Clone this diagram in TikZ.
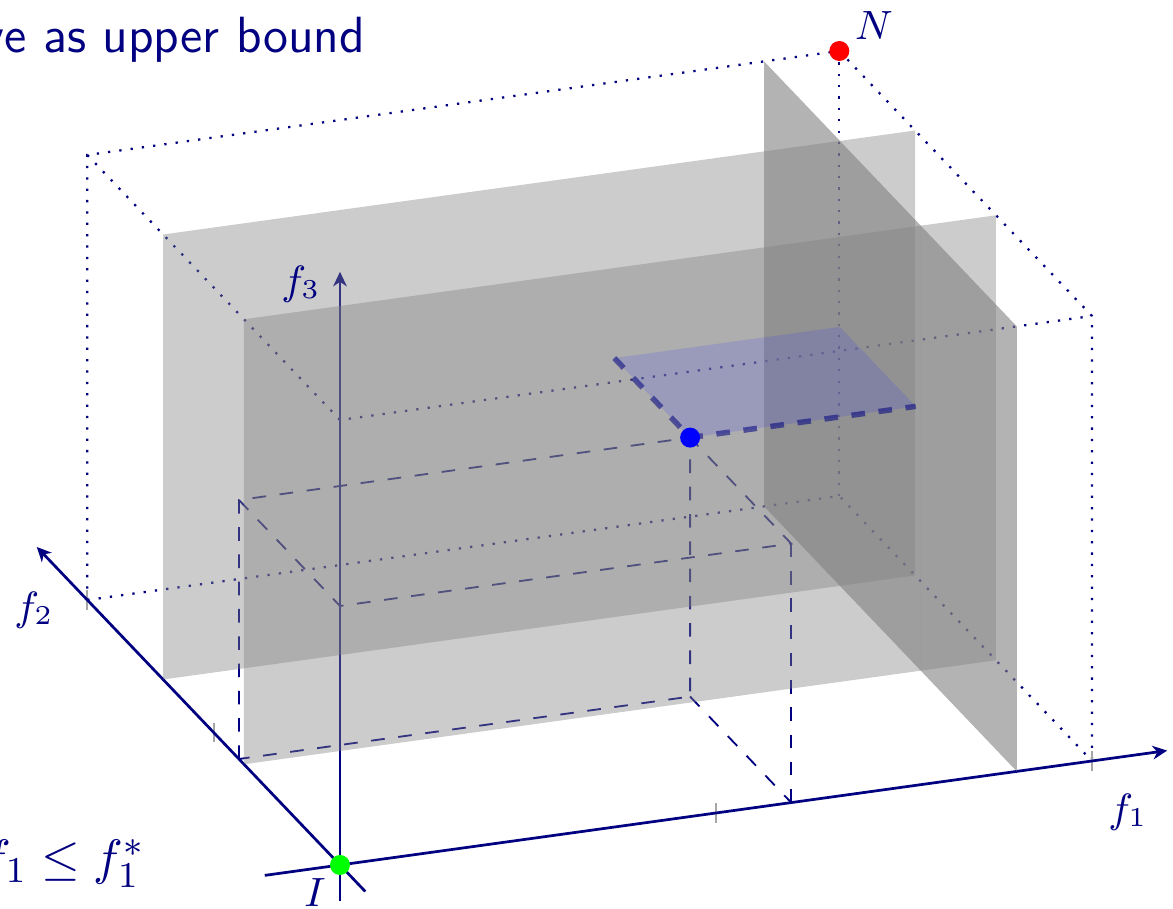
\documentclass[tikz,border=0pt]{standalone}
\usetikzlibrary{arrows.meta}
\definecolor{navyc}{RGB}{0,0,128}
\definecolor{goalblue}{RGB}{43,43,255}
\begin{document}
\begin{tikzpicture}[x=0.22pt,y=-0.22pt,
  axis/.style={navyc, line width=0.6pt, -{Stealth[length=3.2pt,width=3pt,inset=1pt]}},
  boxline/.style={navyc, dotted, line width=0.5pt},
  dashline/.style={navyc, dashed, line width=0.4pt},
  tickline/.style={gray!70, line width=0.4pt},
  lightplane/.style={fill=gray, fill opacity=0.4},
  darkplane/.style={fill=gray, fill opacity=0.6},
  goalrect/.style={fill=goalblue, fill opacity=0.15},
  goaledge/.style={navyc, dashed, line width=1.2pt, draw opacity=0.55},
  dot/.style={circle, inner sep=0pt, minimum size=4.4pt},
  lbl/.style={text=navyc, font=\fontsize{9}{11}\selectfont, inner sep=0pt},
]
\useasboundingbox (0,0) rectangle (1173,909);
\node[anchor=base east, text=navyc, font=\fontsize{11.2}{13}\selectfont\sffamily, inner sep=0pt] (title) at (366,52.7) {ve as upper bound};
\node[anchor=base east, text=navyc, font=\fontsize{11}{13}\selectfont, inner sep=0pt] (cons) at (146,875) {$f_1 \le f_1^*$};

\begin{scope}[shift={(340,865)}, x={(16.544pt,2.288pt)}, y={(-5.559pt,5.83pt)}, z={(0pt,9.79pt)}]
  \def\hp{5.82}
  % axes ends
  \coordinate (O) at (0,0,0);
  \coordinate (A1n) at (-1,0,0);  \coordinate (A1p) at (11,0,0);
  \coordinate (A2n) at (0,-1,0);  \coordinate (A2p) at (0,12,0);
  \coordinate (A3n) at (0,0,-0.8); \coordinate (A3p) at (0,0,13.33);
  % bounding box corners
  \coordinate (B100) at (10,0,0);  \coordinate (B010) at (0,10,0);
  \coordinate (B110) at (10,10,0); \coordinate (B001) at (0,0,10);
  \coordinate (B101) at (10,0,10); \coordinate (B011) at (0,10,10);
  \coordinate (B111) at (10,10,10);
  % ticks
  \coordinate (T1a) at (5,0,0); \coordinate (T2a) at (0,5,0);
  % dashed box corners
  \coordinate (D040) at (0,4,0);   \coordinate (D600) at (6,0,0);
  \coordinate (D640) at (6,4,0);   \coordinate (D04p) at (0,4,\hp);
  \coordinate (D00p) at (0,0,\hp); \coordinate (D60p) at (6,0,\hp);
  \coordinate (P) at (6,4,\hp);
  \coordinate (R94) at (9,4,\hp); \coordinate (R97) at (9,7,\hp);
  \coordinate (R67) at (6,7,\hp);

  % dotted box
  \draw[boxline] (B010) -- (B011) -- (B111) -- (B101) -- (B100);
  \draw[boxline] (B011) -- (B001) -- (B101);
  \draw[boxline] (B111) -- (B110);
  \draw[boxline] (B010) -- (B110) -- (B100);

  % ticks
  \foreach \t in {T1a,B100,T2a,B010}
    \draw[tickline] ([yshift=-2.1pt]\t) -- ([yshift=2.1pt]\t);

  % axes
  \draw[axis] (A1n) -- (A1p);
  \draw[axis] (A2n) -- (A2p);
  \draw[axis] (A3n) -- (A3p);

  % dashed box
  \draw[dashline] (D040) -- (D04p) -- (P) -- (D640) -- (D040);
  \draw[dashline] (D04p) -- (D00p) -- (D60p) -- (P);
  \draw[dashline] (D60p) -- (D600);
  \draw[dashline] (D640) -- (D600);

  % planes
  \fill[darkplane] (9,7,0) -- (9,10,0) -- (9,10,10) -- (9,7,10) -- cycle;
  \fill[lightplane] (0,7,0) -- (10,7,0) -- (10,7,10) -- (0,7,10) -- cycle;
  \fill[darkplane] (9,3.8,0) -- (9,7,0) -- (9,7,10) -- (9,3.8,10) -- cycle;
  \fill[lightplane] (0,3.8,0) -- (10,3.8,0) -- (10,3.8,10) -- (0,3.8,10) -- cycle;
  \fill[darkplane] (9,0,0) -- (9,3.8,0) -- (9,3.8,10) -- (9,0,10) -- cycle;

  % goal rectangle
  \fill[goalrect] (P) -- (R94) -- (R97) -- (R67) -- cycle;
  \draw[goaledge] (R67) -- (P) -- (R94);

  % points
  \node[dot, fill=green] (I) at (O) {};
  \node[dot, fill=blue] (Pdot) at (P) {};
  \node[dot, fill=red] (N) at (B111) {};
\end{scope}

\node[lbl] (Nlab) at (874,26) {$N$};
\node[lbl] (Ilab) at (315,893) {$I$};
\node[lbl] (f1lab) at (1128,812) {$f_1$};
\node[lbl] (f2lab) at (34,610) {$f_2$};
\node[lbl] (f3lab) at (301,284) {$f_3$};
\end{tikzpicture}
\end{document}
